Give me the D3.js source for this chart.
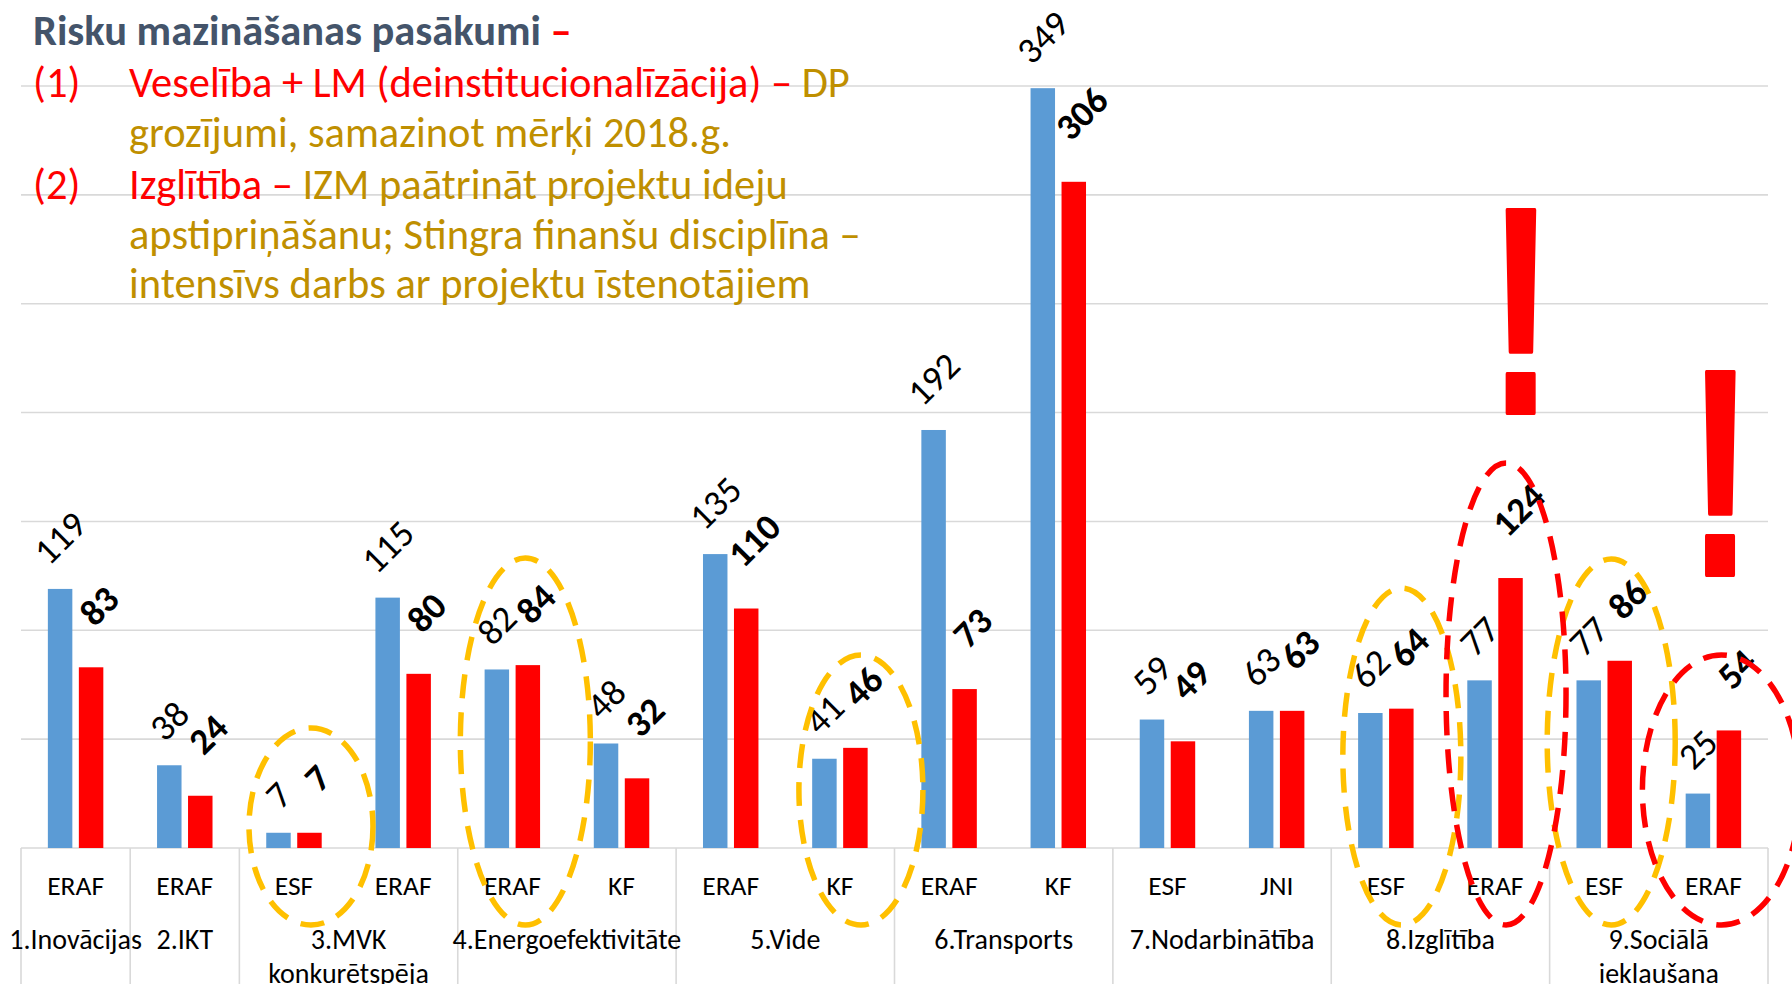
<!DOCTYPE html>
<html>
<head>
<meta charset="utf-8">
<script src="https://cdn.jsdelivr.net/npm/d3@7"></script>
<style>
  body { margin: 0; background: #fff; }
  svg { display: block; font-family: Carlito, Calibri, Lato, sans-serif; }
</style>
</head>
<body>
<svg id="chart" width="1792" height="984"></svg>
<script>
// fund under each bar pair
const funds = ["ERAF", "ERAF", "ESF", "ERAF", "ERAF", "KF", "ERAF", "KF",
               "ERAF", "KF", "ESF", "JNI", "ESF", "ERAF", "ESF", "ERAF"];
// priority groups and how many funds each one spans
const groupNames = [["1.Inovācijas"], ["2.IKT"], ["3.MVK", "konkurētspēja"], ["4.Energoefektivitāte"],
                    ["5.Vide"], ["6.Transports"], ["7.Nodarbinātība"], ["8.Izglītība"], ["9.Sociālā", "iekļaušana"]];
const groupSpans = [1, 1, 2, 2, 2, 2, 2, 2, 2];
// blue series (normal labels) and red series (bold labels)
const blueValues = [119, 38, 7, 115, 82, 48, 135, 41, 192, 349, 59, 63, 62, 77, 77, 25];
const redValues  = [83, 24, 7, 80, 84, 32, 110, 46, 73, 306, 49, 63, 64, 124, 86, 54];
const yTicks = [0, 50, 100, 150, 200, 250, 300, 350];

// dashed ellipses: which fund column they circle
const yellowRings = [2, 4, 7, 12, 14];
const redRings = [13, 15];
const alertColumns = [13, 15];

const blue = "#5B9BD5", red = "#FF0000", gold = "#BF8F00", slate = "#44546A", ringYellow = "#FFC000";

const svg = d3.select("#chart");
const margin = {left: 21, right: 24, base: 848, top: 86};

const x = d3.scaleBand().domain(d3.range(funds.length)).range([margin.left, 1792 - margin.right]).padding(0);
const y = d3.scaleLinear().domain([0, 350]).range([margin.base, margin.top]);
const bw = x.bandwidth();
const inner = d3.scaleBand().domain(["b", "r"]).range([-0.254 * bw, 0.254 * bw]).paddingInner(0.21);

// gridlines
svg.append("g").selectAll("line").data(yTicks).join("line")
    .attr("x1", margin.left).attr("x2", 1792 - margin.right)
    .attr("y1", d => y(d)).attr("y2", d => y(d))
    .attr("stroke", "#D9D9D9").attr("stroke-width", 1.6);

// category table lines
let bounds = [0];
groupSpans.forEach(s => bounds.push(bounds[bounds.length - 1] + s));
const edge = i => i < funds.length ? x(i) : x(funds.length - 1) + bw;
svg.append("g").selectAll("line").data(bounds).join("line")
    .attr("x1", d => edge(d)).attr("x2", d => edge(d))
    .attr("y1", margin.base).attr("y2", 984)
    .attr("stroke", "#D9D9D9").attr("stroke-width", 1.6);

// title block
const lines = [
  {x: 33, y: 45, parts: [["Risku mazināšanas pasākumi", slate, "bold"], [" –", red, "bold"]]},
  {x: 33, y: 97, parts: [["(1)", red]]},
  {x: 129, y: 97, parts: [["Veselība + LM (deinstitucionalīzācija) –", red], [" DP", gold]]},
  {x: 129, y: 147, parts: [["grozījumi, samazinot mērķi 2018.g.", gold]]},
  {x: 33, y: 199, parts: [["(2)", red]]},
  {x: 129, y: 199, parts: [["Izglītība –", red], [" IZM paātrināt projektu ideju", gold]]},
  {x: 129, y: 249, parts: [["apstipriņāšanu; Stingra finanšu disciplīna –", gold]]},
  {x: 129, y: 298, parts: [["intensīvs darbs ar projektu īstenotājiem", gold]]}
];
lines.forEach(l => {
  const t = svg.append("text").attr("x", l.x).attr("y", l.y).attr("font-size", 42.5);
  l.parts.forEach(p => t.append("tspan").attr("fill", p[1]).attr("font-weight", p[2] || "normal")
      .style("white-space", "pre").text(p[0]));
});

// bars
const bars = svg.append("g");
bars.selectAll(".blue").data(blueValues).join("rect").attr("class", "blue")
    .attr("x", (d, i) => x(i) + bw / 2 + inner("b")).attr("width", inner.bandwidth())
    .attr("y", d => y(d)).attr("height", d => y(0) - y(d)).attr("fill", blue);
bars.selectAll(".red").data(redValues).join("rect").attr("class", "red")
    .attr("x", (d, i) => x(i) + bw / 2 + inner("r")).attr("width", inner.bandwidth())
    .attr("y", d => y(d)).attr("height", d => y(0) - y(d)).attr("fill", red);

// rotated value labels
function addLabels(values, key, weight, lift, shift) {
  svg.append("g").selectAll("text").data(values).join("text")
      .attr("font-size", 37).attr("font-weight", weight).attr("fill", "#000")
      .attr("text-anchor", "middle").attr("dominant-baseline", "central")
      .text(d => d)
      .each(function(d, i) {
        const len = this.getComputedTextLength();
        const cx = x(i) + bw / 2 + inner(key) + inner.bandwidth() / 2 + shift;
        const cy = y(d) - lift - len * 0.354;
        d3.select(this).attr("transform", `translate(${cx},${cy}) rotate(-45)`);
      });
}
addLabels(blueValues, "b", "normal", 31, 0);
addLabels(redValues, "r", "bold", 48, 8);

// fund labels
svg.append("g").selectAll("text").data(funds).join("text")
    .attr("x", (d, i) => x(i) + bw / 2).attr("y", 885)
    .attr("text-anchor", "middle").attr("dominant-baseline", "central")
    .attr("font-size", 27.5).attr("fill", "#000").text(d => d);

// group labels
svg.append("g").selectAll("g").data(groupNames).join("g")
    .each(function(names, gi) {
      const mid = (edge(bounds[gi]) + edge(bounds[gi + 1])) / 2;
      d3.select(this).selectAll("text").data(names).join("text")
          .attr("x", mid).attr("y", (d, k) => 939 + k * 34)
          .attr("text-anchor", "middle").attr("dominant-baseline", "central")
          .attr("font-size", 28).attr("fill", "#000").text(d => d);
    });

// dashed ellipses
const ringShape = {
  2: {dx: 17, rx: 62, top: 728}, 4: {dx: 13, rx: 65, top: 558}, 7: {dx: 21, rx: 62, top: 655},
  12: {dx: 16, rx: 59, top: 588}, 14: {dx: 7, rx: 64, top: 559}, 13: {dx: 11, rx: 60, top: 463},
  15: {dx: 8, rx: 79, top: 655}
};
function rings(cols, color) {
  svg.append("g").selectAll("ellipse").data(cols).join("ellipse")
      .attr("cx", d => x(d) + bw / 2 + ringShape[d].dx)
      .attr("cy", d => (ringShape[d].top + 925) / 2)
      .attr("rx", d => ringShape[d].rx)
      .attr("ry", d => (925 - ringShape[d].top) / 2)
      .attr("fill", "none").attr("stroke", color).attr("stroke-width", 5.5)
      .attr("stroke-dasharray", "24 14");
}
rings(yellowRings, ringYellow);
rings(redRings, red);

// exclamation marks
const alertShape = {13: {dx: 26, base: 413}, 15: {dx: 7, base: 575}};
svg.append("g").selectAll("text").data(alertColumns).join("text")
    .attr("transform", d => `translate(${x(d) + bw / 2 + alertShape[d].dx},${alertShape[d].base}) scale(0.66,1)`)
    .attr("text-anchor", "middle").attr("font-family", "'Liberation Sans', Arial, sans-serif")
    .attr("font-size", 295).attr("font-weight", "bold")
    .attr("fill", red).attr("stroke", red).attr("stroke-width", 4).attr("stroke-linejoin", "round")
    .text("!");
</script>
</body>
</html>
